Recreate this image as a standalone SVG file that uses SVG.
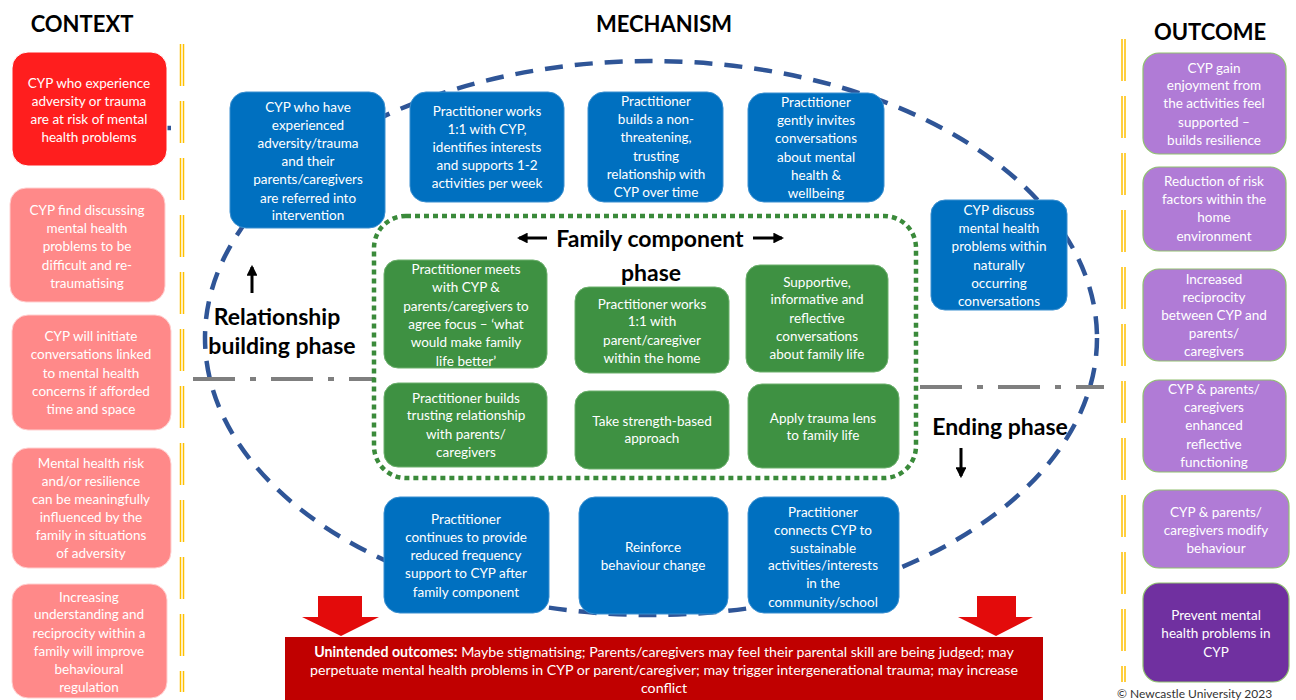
<svg xmlns="http://www.w3.org/2000/svg" width="1296" height="700" viewBox="0 0 1296 700">
<defs>
<style>
.t{font-family:Lato,"Liberation Sans",sans-serif;font-size:13.5px;fill:#fff;text-anchor:middle}
.h{font-family:Lato,"Liberation Sans",sans-serif;font-size:22px;font-weight:bold;fill:#000;text-anchor:middle}
.ph{font-family:Lato,"Liberation Sans",sans-serif;font-size:23px;font-weight:bold;fill:#000;text-anchor:middle}
.red{fill:#FF1E1E;stroke:#ffffff;stroke-width:1}
.pink{fill:#FF8989;stroke:#ffd0d0;stroke-width:1}
.blue{fill:#0070C0;stroke:#3a8fd0;stroke-width:1}
.green{fill:#3E9142;stroke:#6cb06c;stroke-width:1}
.lp{fill:#B07BD6;stroke:#8fc06f;stroke-width:1.2}
.dp{fill:#7030A0;stroke:#8fc06f;stroke-width:1.2}
.yl{stroke:#FFC000;stroke-width:1.5;stroke-dasharray:42 15}
.dd{stroke:#7F7F7F;stroke-width:4;stroke-dasharray:42 15 6 15;fill:none}
.ar{stroke:#000;stroke-width:3;fill:none}
</style>
<marker id="ah" viewBox="0 0 10 10" refX="8" refY="5" markerWidth="3.6" markerHeight="3.6" orient="auto-start-reverse">
<path d="M0,0 L10,5 L0,10 z" fill="#000"/>
</marker>
</defs>
<rect width="1296" height="700" fill="#fff"/>

<g id="headers">
<text class="h" x="82" y="32">CONTEXT</text>
<text class="h" x="664" y="32">MECHANISM</text>
<text class="h" x="1210" y="40">OUTCOME</text>
</g>

<g id="dividers">
<line class="yl" x1="180.5" y1="44" x2="180.5" y2="692"/>
<line class="yl" x1="183.5" y1="44" x2="183.5" y2="692"/>
<line class="yl" x1="1122" y1="39" x2="1122" y2="682"/>
<line class="yl" x1="1125" y1="39" x2="1125" y2="682"/>
</g>

<g id="connectors">
<ellipse cx="651" cy="338" rx="446" ry="277" fill="none" stroke="#2F5597" stroke-width="4.5" stroke-dasharray="18 12"/>
<line x1="166" y1="128" x2="171" y2="128" stroke="#2F5597" stroke-width="4.5"/>
<line class="dd" x1="193" y1="379" x2="375" y2="379"/>
<line class="dd" x1="920" y1="387" x2="1104" y2="387"/>
<line class="ar" x1="252" y1="293" x2="252" y2="267" marker-end="url(#ah)"/>
<line class="ar" x1="961" y1="448" x2="961" y2="476" marker-end="url(#ah)"/>
<line class="ar" x1="547" y1="238" x2="519" y2="238" marker-end="url(#ah)"/>
<line class="ar" x1="753" y1="238" x2="782" y2="238" marker-end="url(#ah)"/>
<path d="M318,596 H362 V617 H379 L341,636 L302,617 H318 Z" fill="#E30B0B"/>
<path d="M977,596 H1016 V617 H1033 L996,636 L958,617 H977 Z" fill="#E30B0B"/>
</g>

<g id="family-frame">
<rect x="374" y="216" width="542" height="262" rx="32" fill="none" stroke="#3A8A3A" stroke-width="4.5" stroke-dasharray="5 4"/>
</g>

<g id="labels">
<text class="ph" x="650" y="247">Family component</text>
<text class="ph" x="651" y="281">phase</text>
<text class="ph" x="277" y="325">Relationship</text>
<text class="ph" x="282" y="354">building phase</text>
<text class="ph" x="1000" y="435">Ending phase</text>
</g>

<g id="ctx1"><rect class="red" x="12" y="52" width="155" height="114" rx="16"/>
<text class="t"><tspan x="89" y="88">CYP who experience</tspan><tspan x="89" y="106">adversity or trauma</tspan><tspan x="89" y="124">are at risk of mental</tspan><tspan x="89" y="142">health problems</tspan></text></g>
<g id="ctx2"><rect class="pink" x="10" y="188" width="155" height="114" rx="16"/>
<text class="t"><tspan x="87" y="215">CYP find discussing</tspan><tspan x="87" y="233">mental health</tspan><tspan x="87" y="251">problems to be</tspan><tspan x="87" y="270">difficult and re-</tspan><tspan x="87" y="288">traumatising</tspan></text></g>
<g id="ctx3"><rect class="pink" x="12" y="315" width="159" height="115" rx="16"/>
<text class="t"><tspan x="91" y="341">CYP will initiate</tspan><tspan x="91" y="359">conversations linked</tspan><tspan x="91" y="378">to mental health</tspan><tspan x="91" y="396">concerns if afforded</tspan><tspan x="91" y="414">time and space</tspan></text></g>
<g id="ctx4"><rect class="pink" x="12" y="448" width="159" height="120" rx="16"/>
<text class="t"><tspan x="91" y="468">Mental health risk</tspan><tspan x="91" y="486">and/or resilience</tspan><tspan x="91" y="504">can be meaningfully</tspan><tspan x="91" y="522">influenced by the</tspan><tspan x="91" y="540">family in situations</tspan><tspan x="91" y="558">of adversity</tspan></text></g>
<g id="ctx5"><rect class="pink" x="12" y="584" width="155" height="114" rx="16"/>
<text class="t"><tspan x="89" y="602">Increasing</tspan><tspan x="89" y="619">understanding  and</tspan><tspan x="89" y="638">reciprocity within a</tspan><tspan x="89" y="656">family will improve</tspan><tspan x="89" y="674">behavioural</tspan><tspan x="89" y="692">regulation</tspan></text></g>

<g id="mA"><rect class="blue" x="230" y="92" width="155" height="136" rx="16"/>
<text class="t"><tspan x="308" y="112">CYP who have</tspan><tspan x="308" y="130">experienced</tspan><tspan x="308" y="148">adversity/trauma</tspan><tspan x="308" y="166">and their</tspan><tspan x="308" y="184">parents/caregivers</tspan><tspan x="308" y="203">are referred into</tspan><tspan x="308" y="220">intervention</tspan></text></g>
<g id="mB"><rect class="blue" x="410" y="92" width="154" height="110" rx="16"/>
<text class="t"><tspan x="487" y="116">Practitioner works</tspan><tspan x="487" y="134">1:1 with CYP,</tspan><tspan x="487" y="152">identifies  interests</tspan><tspan x="487" y="170">and supports 1-2</tspan><tspan x="487" y="188">activities per week</tspan></text></g>
<g id="mC"><rect class="blue" x="588" y="92" width="135" height="110" rx="16"/>
<text class="t"><tspan x="656" y="106">Practitioner</tspan><tspan x="656" y="124">builds a non-</tspan><tspan x="656" y="142">threatening,</tspan><tspan x="656" y="161">trusting</tspan><tspan x="656" y="179">relationship with</tspan><tspan x="656" y="197">CYP over time</tspan></text></g>
<g id="mD"><rect class="blue" x="748" y="93" width="136" height="109" rx="16"/>
<text class="t"><tspan x="816" y="107">Practitioner</tspan><tspan x="816" y="125">gently invites</tspan><tspan x="816" y="143">conversations</tspan><tspan x="816" y="162">about mental</tspan><tspan x="816" y="180">health &amp;</tspan><tspan x="816" y="198">wellbeing</tspan></text></g>
<g id="mE"><rect class="blue" x="931" y="200" width="136" height="110" rx="14"/>
<text class="t"><tspan x="999" y="215">CYP discuss</tspan><tspan x="999" y="233">mental health</tspan><tspan x="999" y="251">problems within</tspan><tspan x="999" y="270">naturally</tspan><tspan x="999" y="288">occurring</tspan><tspan x="999" y="306">conversations</tspan></text></g>
<g id="mF"><rect class="blue" x="384" y="497" width="165" height="116" rx="16"/>
<text class="t"><tspan x="466" y="524">Practitioner</tspan><tspan x="466" y="542">continues to  provide</tspan><tspan x="466" y="560">reduced frequency</tspan><tspan x="466" y="578">support to CYP after</tspan><tspan x="466" y="597">family component</tspan></text></g>
<g id="mG"><rect class="blue" x="579" y="497" width="149" height="117" rx="16"/>
<text class="t"><tspan x="653" y="552">Reinforce</tspan><tspan x="653" y="570">behaviour change</tspan></text></g>
<g id="mH"><rect class="blue" x="748" y="497" width="151" height="116" rx="16"/>
<text class="t"><tspan x="823" y="517">Practitioner</tspan><tspan x="823" y="535">connects CYP to</tspan><tspan x="823" y="553">sustainable</tspan><tspan x="823" y="570">activities/interests</tspan><tspan x="823" y="588">in the</tspan><tspan x="823" y="607">community/school</tspan></text></g>

<g id="f1"><rect class="green" x="384" y="260" width="163" height="108" rx="14"/>
<text class="t"><tspan x="466" y="274">Practitioner meets</tspan><tspan x="466" y="292">with CYP &amp;</tspan><tspan x="466" y="311">parents/caregivers to</tspan><tspan x="466" y="329">agree focus – ‘what</tspan><tspan x="466" y="347">would make family</tspan><tspan x="466" y="366">life better’</tspan></text></g>
<g id="f2"><rect class="green" x="575" y="287" width="154" height="86" rx="14"/>
<text class="t"><tspan x="652" y="309">Practitioner works</tspan><tspan x="652" y="326">1:1 with</tspan><tspan x="652" y="345">parent/caregiver</tspan><tspan x="652" y="363">within the home</tspan></text></g>
<g id="f3"><rect class="green" x="746" y="265" width="142" height="107" rx="14"/>
<text class="t"><tspan x="817" y="287">Supportive,</tspan><tspan x="817" y="304">informative and</tspan><tspan x="817" y="323">reflective</tspan><tspan x="817" y="341">conversations</tspan><tspan x="817" y="359">about family life</tspan></text></g>
<g id="f4"><rect class="green" x="384" y="383" width="163" height="84" rx="14"/>
<text class="t"><tspan x="466" y="403">Practitioner builds</tspan><tspan x="466" y="420">trusting  relationship</tspan><tspan x="466" y="439">with parents/</tspan><tspan x="466" y="457">caregivers</tspan></text></g>
<g id="f5"><rect class="green" x="575" y="391" width="154" height="78" rx="14"/>
<text class="t"><tspan x="652" y="426">Take strength-based</tspan><tspan x="652" y="443">approach</tspan></text></g>
<g id="f6"><rect class="green" x="748" y="384" width="151" height="84" rx="14"/>
<text class="t"><tspan x="823" y="423">Apply trauma lens</tspan><tspan x="823" y="440">to family life</tspan></text></g>

<g id="o1"><rect class="lp" x="1143" y="53" width="143" height="101" rx="16"/>
<text class="t"><tspan x="1214" y="73">CYP gain</tspan><tspan x="1214" y="90">enjoyment from</tspan><tspan x="1214" y="108">the activities feel</tspan><tspan x="1214" y="127">supported –</tspan><tspan x="1214" y="145">builds resilience</tspan></text></g>
<g id="o2"><rect class="lp" x="1143" y="167" width="143" height="84" rx="16"/>
<text class="t"><tspan x="1214" y="186">Reduction of risk</tspan><tspan x="1214" y="204">factors within the</tspan><tspan x="1214" y="222">home</tspan><tspan x="1214" y="241">environment</tspan></text></g>
<g id="o3"><rect class="lp" x="1143" y="269" width="143" height="92" rx="16"/>
<text class="t"><tspan x="1214" y="284">Increased</tspan><tspan x="1214" y="302">reciprocity</tspan><tspan x="1214" y="320">between CYP and</tspan><tspan x="1214" y="338">parents/</tspan><tspan x="1214" y="356">caregivers</tspan></text></g>
<g id="o4"><rect class="lp" x="1143" y="380" width="143" height="92" rx="16"/>
<text class="t"><tspan x="1214" y="394">CYP &amp; parents/</tspan><tspan x="1214" y="412">caregivers</tspan><tspan x="1214" y="430">enhanced</tspan><tspan x="1214" y="449">reflective</tspan><tspan x="1214" y="467">functioning</tspan></text></g>
<g id="o5"><rect class="lp" x="1143" y="490" width="146" height="78" rx="16"/>
<text class="t"><tspan x="1216" y="517">CYP &amp; parents/</tspan><tspan x="1216" y="535">caregivers modify</tspan><tspan x="1216" y="553">behaviour</tspan></text></g>
<g id="o6"><rect class="dp" x="1143" y="583" width="146" height="99" rx="16"/>
<text class="t"><tspan x="1216" y="620">Prevent mental</tspan><tspan x="1216" y="638">health problems in</tspan><tspan x="1216" y="657">CYP</tspan></text></g>

<g id="unintended"><rect x="285" y="637" width="758" height="70" fill="#C00000"/>
<text class="t" style="font-size:14.2px"><tspan x="664" y="657"><tspan font-weight="bold">Unintended outcomes:</tspan> Maybe stigmatising; Parents/caregivers may feel their parental skill are being judged; may</tspan><tspan x="664" y="675">perpetuate mental health problems in CYP or parent/caregiver; may trigger intergenerational trauma; may increase</tspan><tspan x="664" y="693">conflict</tspan></text></g>

<text x="1117" y="698" font-family="Lato,'Liberation Sans',sans-serif" font-size="12" fill="#333">© Newcastle University 2023</text>
</svg>
